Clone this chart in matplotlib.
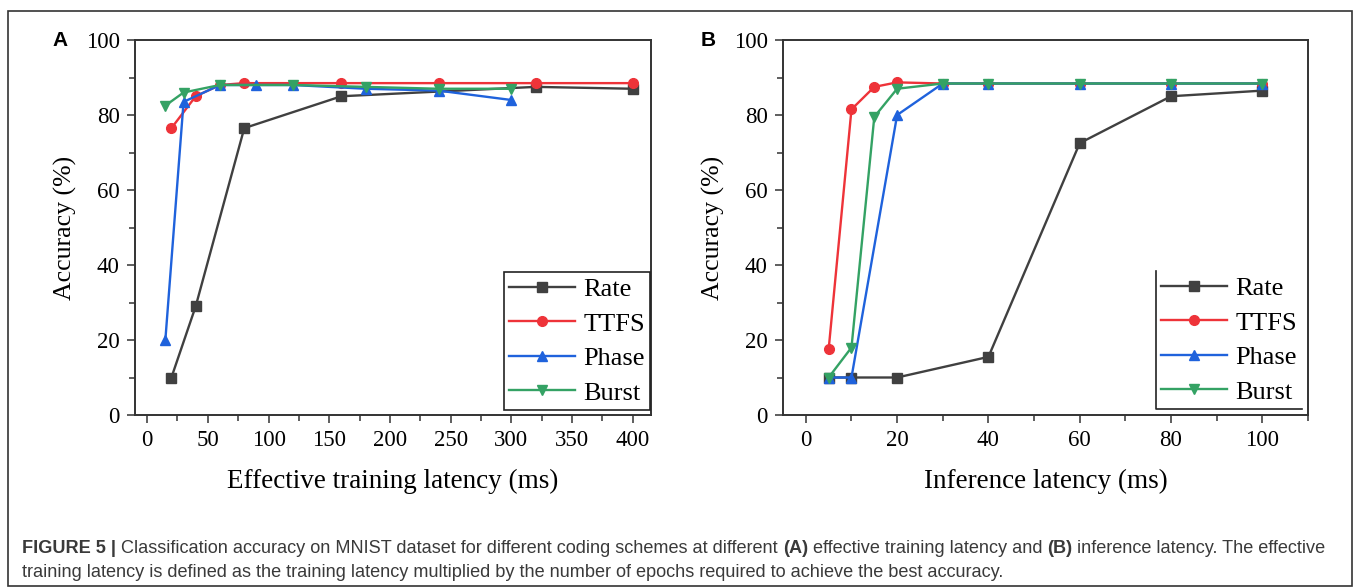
import matplotlib
matplotlib.use('Agg')
import matplotlib.pyplot as plt
from matplotlib.ticker import MultipleLocator
from matplotlib.patches import Rectangle
from matplotlib.lines import Line2D

series_names = ['Rate', 'TTFS', 'Phase', 'Burst']
colors = ['#404040', '#ee3339', '#1f62dc', '#34a264']
markers = ['s', 'o', '^', 'v']

# (A) accuracy vs effective training latency (ms)
train_rate_x = [20, 40, 80, 160, 320, 400]
train_rate_acc = [10, 29, 76.5, 85, 87.5, 87]
train_ttfs_x = [20, 40, 60, 80, 160, 240, 320, 400]
train_ttfs_acc = [76.5, 85, 88, 88.5, 88.5, 88.5, 88.5, 88.5]
train_phase_x = [15, 30, 60, 90, 120, 180, 240, 300]
train_phase_acc = [20, 83.5, 88, 88, 88, 87, 86.5, 84]
train_burst_x = [15, 30, 60, 120, 180, 240, 300]
train_burst_acc = [82.5, 86, 88, 88, 87.5, 87, 87]

# (B) accuracy vs inference latency (ms)
inf_rate_x = [5, 10, 20, 40, 60, 80, 100]
inf_rate_acc = [10, 10, 10, 15.5, 72.5, 85, 86.5]
inf_ttfs_x = [5, 10, 15, 20, 30, 40, 60, 80, 100]
inf_ttfs_acc = [17.5, 81.5, 87.5, 88.7, 88.4, 88.4, 88.4, 88.4, 88.4]
inf_phase_x = [5, 10, 20, 30, 40, 60, 80, 100]
inf_phase_acc = [10, 10, 80, 88.4, 88.4, 88.4, 88.4, 88.4]
inf_burst_x = [5, 10, 15, 20, 30, 40, 60, 80, 100]
inf_burst_acc = [10, 18, 79.5, 87, 88.4, 88.4, 88.4, 88.4, 88.4]

W, H = 1360, 588
fig = plt.figure(figsize=(W / 100, H / 100), dpi=100)
plt.rcParams['font.family'] = ['Liberation Serif', 'DejaVu Serif']


def px_axes(left, top, right, bottom):
    return fig.add_axes([left / W, 1 - bottom / H, (right - left) / W, (bottom - top) / H])


def style_axes(ax, xlim, xmajor, xminor, xlabel):
    ax.set_xlim(*xlim)
    ax.set_ylim(0, 100)
    ax.xaxis.set_major_locator(MultipleLocator(xmajor))
    ax.xaxis.set_minor_locator(MultipleLocator(xminor))
    ax.yaxis.set_major_locator(MultipleLocator(20))
    ax.yaxis.set_minor_locator(MultipleLocator(10))
    ax.tick_params(which='both', direction='out', top=False, right=False,
                   width=1.1, color='#333333', labelsize=16.5, pad=5)
    ax.tick_params(which='major', length=6)
    ax.tick_params(which='minor', length=4)
    for sp in ax.spines.values():
        sp.set_linewidth(1.4)
        sp.set_color('#333333')
    ax.set_xlabel(xlabel, fontsize=19.5, labelpad=13)
    ax.set_ylabel('Accuracy (%)', fontsize=18.5, labelpad=6)


def plot_series(ax, xs, ys):
    lines = []
    for x, y, c, m, name in zip(xs, ys, colors, markers, series_names):
        ln, = ax.plot(x, y, color=c, marker=m, markersize=7, linewidth=1.7,
                      label=name, clip_on=False)
        lines.append(ln)
    return lines


def add_legend(ax, right, bottom, frame):
    return ax.legend(loc='lower right', bbox_to_anchor=(right / W, 1 - bottom / H),
                     bbox_transform=fig.transFigure, fontsize=19, frameon=frame,
                     fancybox=False, edgecolor='#222222', framealpha=1,
                     borderaxespad=0, borderpad=0.2, handlelength=2.5,
                     handletextpad=0.3, labelspacing=0.42)


axA = px_axes(135, 40, 651, 415)
plot_series(axA, [train_rate_x, train_ttfs_x, train_phase_x, train_burst_x],
            [train_rate_acc, train_ttfs_acc, train_phase_acc, train_burst_acc])
style_axes(axA, (-10, 415), 50, 25, 'Effective training latency (ms)')
legA = add_legend(axA, 650, 410, True)
legA.get_frame().set_linewidth(1.2)

axB = px_axes(783, 40, 1308, 415)
plot_series(axB, [inf_rate_x, inf_ttfs_x, inf_phase_x, inf_burst_x],
            [inf_rate_acc, inf_ttfs_acc, inf_phase_acc, inf_burst_acc])
style_axes(axB, (-5, 110), 20, 10, 'Inference latency (ms)')
legB = add_legend(axB, 1302, 409, False)

# panel letters
for letter, x in [('A', 60), ('B', 708)]:
    fig.text(x / W, 1 - 40 / H, letter, fontsize=15, fontweight='bold',
             family=['Liberation Sans', 'DejaVu Sans'], ha='center', va='center')

# outer frame of the figure
fig.add_artist(Rectangle((8 / W, 1 - 586 / H), (1352 - 8) / W, (586 - 11) / H,
                         transform=fig.transFigure, fill=False,
                         edgecolor='#333333', linewidth=1.2))

fig.canvas.draw()
renderer = fig.canvas.get_renderer()

# legend B is drawn with only left and bottom edges
bb = legB.get_window_extent(renderer)
x0, y0, x1, y1 = bb.x0 / W, bb.y0 / H, bb.x1 / W, bb.y1 / H
fig.add_artist(Line2D([x0, x0, x1], [y1, y0, y0], transform=fig.transFigure,
                      color='#222222', linewidth=1.2))

# caption with mixed bold / regular runs
cap_family = ['Liberation Sans Narrow', 'Liberation Sans', 'DejaVu Sans']
cap_size = 13.1
cap_color = '#3a3a3a'


def text_runs(x, y, runs):
    for s, weight in runs:
        t = fig.text(x / W, 1 - y / H, s, fontsize=cap_size, fontweight=weight,
                     family=cap_family, color=cap_color, va='baseline')
        x += t.get_window_extent(renderer).width


text_runs(22, 553, [
    ('FIGURE 5 | ', 'bold'),
    ('Classification accuracy on MNIST dataset for different coding schemes at different ', 'normal'),
    ('(A)', 'bold'),
    (' effective training latency and ', 'normal'),
    ('(B)', 'bold'),
    (' inference latency. The effective', 'normal'),
])
text_runs(22, 577, [
    ('training latency is defined as the training latency multiplied by the number of '
     'epochs required to achieve the best accuracy.', 'normal'),
])

fig.savefig('out.png', dpi=100)
